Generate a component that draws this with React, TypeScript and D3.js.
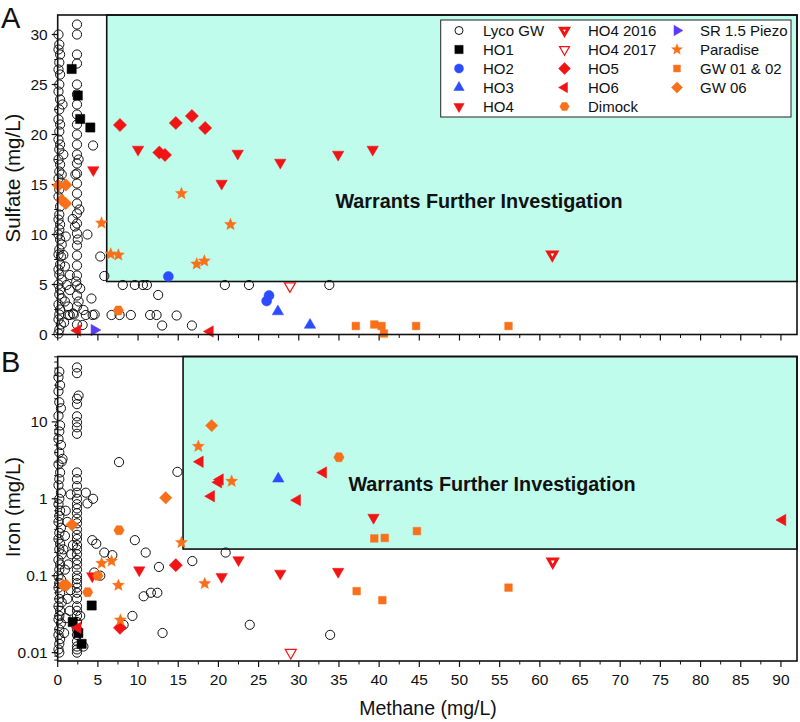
import React from 'react';
import * as d3 from 'd3';

type P = [number, number];

// ---------- ticks ----------
const xMajorTicks = [0, 5, 10, 15, 20, 25, 30, 35, 40, 45, 50, 55, 60, 65, 70, 75, 80, 85, 90];
const xMinorTicks = [2.5, 7.5, 12.5, 17.5, 22.5, 27.5, 32.5, 37.5, 42.5, 47.5, 52.5, 57.5, 62.5, 67.5, 72.5, 77.5, 82.5, 87.5];
const sulfateMajorTicks = [0, 5, 10, 15, 20, 25, 30];
const sulfateMinorTicks = [2.5, 7.5, 12.5, 17.5, 22.5, 27.5];
const ironMajorTicks = [0.01, 0.1, 1, 10];
const ironTickLabels = ['0.01', '0.1', '1', '10'];
const ironMinorTicks = [0.008, 0.009, 0.02, 0.03, 0.04, 0.05, 0.06, 0.07, 0.08, 0.09, 0.2, 0.3, 0.4, 0.5, 0.6, 0.7, 0.8, 0.9, 2, 3, 4, 5, 6, 7, 8, 9, 20, 30, 40, 50, 60, 70];

// thresholds
const sulfateThreshold: P = [6.1, 5.3];
const ironThreshold: P = [15.6, 0.222];

// ---------- Panel A (sulfate) ----------
const lycoSulfate: P[] = [
  [0.1, 30], [0.2, 29], [0.1, 28.5], [0.3, 28], [0.2, 27.2], [0.1, 26.5], [0.3, 26], [0.2, 25], [0.1, 24.3], [0.3, 23.5],
  [0.6, 23], [0.2, 22.5], [0.1, 21.5], [0.3, 21], [0.2, 20.3], [0.1, 19.5], [0.3, 19], [0.2, 18.5], [0.1, 17.5], [0.3, 17],
  [0.2, 16.3], [0.1, 15.6], [0.4, 15.2], [0.2, 14.5], [0.1, 13.8], [0.3, 12.8], [0.2, 12], [0.1, 11.5], [0.3, 11], [0.2, 10.5],
  [0.1, 10], [0.3, 9.5], [0.5, 9], [0.2, 8.5], [0.1, 8], [0.4, 7.8], [0.3, 7], [0.1, 6.5], [0.2, 6], [0.5, 5.5],
  [0.1, 5], [0.3, 4.5], [0.2, 4], [0.5, 3.6], [0.1, 3], [0.3, 2.5], [0.2, 2], [0.1, 1.5], [0.4, 1], [0.2, 0.5], [0.1, 0.1],
  [0.7, 18], [0.5, 16], [1.0, 9.8], [0.7, 7.95], [0.9, 6.8], [1.5, 5.95], [1.1, 4.95], [1.5, 4.45], [0.9, 3.3], [1.3, 2.8],
  [1.9, 2.1], [1.3, 1.95], [1.87, 11.55], [2.15, 10.8], [1.5, 1.95], [0.8, 1.2],
  [2.4, 31], [2.4, 30], [2.4, 28], [2.4, 27.1], [2.4, 25], [2.4, 24], [2.4, 23], [2.4, 22], [2.4, 21], [2.4, 20],
  [2.4, 19], [2.4, 18], [2.4, 17.1], [2.4, 16.1], [2.4, 15.1], [2.4, 14.1], [2.4, 13.1], [2.4, 12.1], [2.4, 11.1], [2.4, 10.1],
  [2.4, 8.9], [2.4, 7.9], [2.4, 6.9], [2.4, 5.9], [2.4, 4.9], [2.4, 3.9], [2.4, 2.8], [2.4, 1.0],
  [2.6, 17.5], [2.2, 16], [2.7, 12.5], [2.5, 9.5], [2.3, 5.3], [2.8, 4.6], [2.0, 2.0], [2.6, 3.3],
  [4.4, 18.9], [3.7, 10.0], [5.3, 7.8], [5.8, 5.85], [4.2, 3.6], [4.6, 2.0], [3.2, 2.45], [3.1, 0.95], [4.35, 1.95], [3.5, 1.95],
  [8.1, 4.95], [9.6, 4.95], [10.6, 4.95], [11.1, 4.95], [20.8, 4.95], [23.8, 4.95], [33.8, 4.95], [12.5, 3.95],
  [6.7, 1.95], [7.7, 1.95], [9.1, 1.95], [11.5, 1.95], [12.3, 1.95], [14.8, 1.9], [13.0, 0.9], [16.7, 0.9]
];
const ho1Sulfate: P[] = [[1.74, 26.55], [2.5, 23.9], [2.8, 21.55], [4.06, 20.7]];
const ho2Sulfate: P[] = [[13.77, 5.8], [26.3, 3.9], [26.0, 3.35]];
const ho3Sulfate: P[] = [[27.4, 2.3], [31.4, 0.95]];
const ho4Sulfate: P[] = [[4.43, 16.45], [10.0, 18.5], [22.4, 18.1], [27.7, 17.2], [34.9, 18.0], [20.4, 15.1], [39.2, 18.5]];
const ho4_2016Sulfate: P[] = [[61.55, 8.0]];
const ho4_2017Sulfate: P[] = [[28.9, 4.85]];
const ho5Sulfate: P[] = [[7.75, 20.95], [12.65, 18.2], [13.35, 17.95], [14.7, 21.15], [16.7, 21.85], [18.35, 20.65]];
const ho6Sulfate: P[] = [[2.45, 0.4], [18.95, 0.3]];
const dimockSulfate: P[] = [[7.55, 2.4]];
const piezoSulfate: P[] = [[4.56, 0.45]];
const paradiseSulfate: P[] = [[5.45, 11.15], [6.6, 8.05], [7.55, 7.95], [15.4, 14.1], [21.5, 11.0], [17.3, 7.05], [18.25, 7.35]];
const gw0102Sulfate: P[] = [[37.1, 0.85], [39.4, 1.0], [40.3, 0.85], [40.6, 0.1], [44.6, 0.85], [56.1, 0.85]];
const gw06Sulfate: P[] = [[0.1, 14.9], [1.03, 14.95], [0.5, 13.45], [1.0, 13.1]];

// ---------- Panel B (iron) ----------
const lycoIron: P[] = [
  [0.2, 45], [0.1, 38], [0.3, 30], [0.1, 25], [0.2, 18], [0.4, 15], [0.1, 12], [0.3, 9], [0.2, 7.5], [0.1, 6],
  [0.4, 5], [0.2, 4], [0.6, 3.3], [0.5, 3.05], [0.1, 2.8], [0.3, 2.2], [0.2, 1.8], [0.1, 1.5], [0.4, 1.2], [0.2, 1.0],
  [0.1, 0.85], [0.3, 0.7], [0.2, 0.6], [0.1, 0.5], [0.4, 0.42], [0.2, 0.36], [0.1, 0.3], [0.3, 0.26], [0.2, 0.22], [0.5, 0.19],
  [0.1, 0.16], [0.3, 0.14], [0.2, 0.12], [0.1, 0.1], [0.4, 0.09], [0.2, 0.08], [0.1, 0.07], [0.3, 0.06], [0.2, 0.05], [0.5, 0.045],
  [0.1, 0.04], [0.3, 0.035], [0.2, 0.03], [0.1, 0.027], [0.4, 0.024], [0.2, 0.02], [0.1, 0.017], [0.3, 0.015], [0.2, 0.013], [0.1, 0.011], [0.2, 0.01],
  [0.9, 0.33], [0.7, 0.22], [1.3, 0.14], [0.9, 0.12], [1.5, 0.035], [1.0, 0.028], [0.8, 0.018], [1.2, 0.05], [1.6, 0.065], [1.9, 0.25],
  [1.7, 0.19], [1.2, 0.5], [1.0, 0.7], [1.6, 1.14],
  [2.4, 51], [2.4, 43], [2.6, 22], [2.4, 20], [2.4, 17], [2.4, 11.8], [2.4, 9.9], [2.4, 8.5], [2.4, 7.0], [2.4, 2.2],
  [2.4, 1.8], [2.4, 1.46], [2.4, 1.2], [2.4, 1.0], [2.4, 0.85], [2.4, 0.75], [2.4, 0.65], [2.4, 0.55], [2.4, 0.48], [2.4, 0.4],
  [2.4, 0.34], [2.4, 0.3], [2.4, 0.25], [2.4, 0.22], [2.4, 0.19], [2.4, 0.16], [2.4, 0.14], [2.4, 0.12], [2.4, 0.1], [2.4, 0.09],
  [2.4, 0.08], [2.4, 0.07], [2.4, 0.06], [2.4, 0.05], [2.4, 0.04], [2.4, 0.035], [2.4, 0.03], [2.4, 0.025], [2.4, 0.02], [2.4, 0.017],
  [2.4, 0.014], [2.4, 0.012], [2.4, 0.011], [2.4, 0.01], [2.8, 0.03], [3.2, 0.012],
  [7.63, 3.0], [14.9, 2.24], [3.5, 1.2], [4.4, 1.0], [3.7, 0.87], [4.3, 0.29], [4.8, 0.26], [5.8, 0.2], [6.8, 0.185], [9.6, 0.29],
  [10.95, 0.2], [12.6, 0.13], [16.75, 0.155], [20.9, 0.2], [4.55, 0.11], [5.3, 0.1], [10.7, 0.054], [11.6, 0.06], [12.4, 0.06], [9.3, 0.03],
  [13.05, 0.018], [23.9, 0.023], [33.9, 0.017], [8.2, 0.023]
];
const ho1Iron: P[] = [[4.23, 0.041], [1.87, 0.025], [2.57, 0.018], [2.98, 0.013]];
const ho3Iron: P[] = [[27.45, 1.82]];
const ho4Iron: P[] = [[4.3, 0.099], [10.15, 0.118], [20.4, 0.097], [22.5, 0.16], [27.7, 0.107], [34.9, 0.113], [39.3, 0.57]];
const ho4_2016Iron: P[] = [[61.6, 0.152]];
const ho4_2017Iron: P[] = [[29.0, 0.01]];
const ho5Iron: P[] = [[14.7, 0.137], [7.75, 0.021]];
const ho6Iron: P[] = [[2.5, 0.021], [17.7, 3.03], [20.2, 1.78], [20.0, 1.64], [19.1, 1.08], [29.8, 0.96], [33.05, 2.2], [90.2, 0.53]];
const dimockIron: P[] = [[7.63, 0.39], [3.73, 0.061], [35.0, 3.47], [5.0, 0.1]];
const paradiseIron: P[] = [[17.5, 4.8], [21.65, 1.69], [15.4, 0.27], [5.47, 0.145], [6.7, 0.155], [7.55, 0.075], [18.3, 0.079], [7.8, 0.0265]];
const gw0102Iron: P[] = [[39.4, 0.305], [40.7, 0.31], [44.7, 0.38], [37.2, 0.063], [40.4, 0.048], [56.1, 0.07]];
const gw06Iron: P[] = [[19.16, 8.95], [13.44, 1.03], [1.78, 0.46], [0.7, 0.075], [1.1, 0.075]];

// ---------- styles ----------
const RED = '#f01414';
const BLUE = '#2c4cff';
const PURPLE = '#5a3cf6';
const ORANGE = '#f8701a';
const TEAL = '#bffcec';
const FONT = "Arial, 'Liberation Sans', Helvetica, sans-serif";

type Shape = 'circle' | 'square' | 'up' | 'down' | 'left' | 'right' | 'diamond' | 'star' | 'hexagon';
interface Style { name: string; shape: Shape; size: number; fill: string; stroke: string; sw: number; inner?: boolean; }

const STY: Record<string, Style> = {
  lyco: { name: 'Lyco GW', shape: 'circle', size: 4.6, fill: 'none', stroke: '#111', sw: 1 },
  ho1: { name: 'HO1', shape: 'square', size: 4.6, fill: '#000', stroke: '#000', sw: 0.5 },
  ho2: { name: 'HO2', shape: 'circle', size: 5, fill: BLUE, stroke: BLUE, sw: 0.5 },
  ho3: { name: 'HO3', shape: 'up', size: 6.6, fill: BLUE, stroke: BLUE, sw: 0.5 },
  ho4: { name: 'HO4', shape: 'down', size: 6.6, fill: RED, stroke: RED, sw: 0.5 },
  ho4_2016: { name: 'HO4 2016', shape: 'down', size: 6.4, fill: 'white', stroke: RED, sw: 3, inner: true },
  ho4_2017: { name: 'HO4 2017', shape: 'down', size: 6.4, fill: 'white', stroke: RED, sw: 1.2 },
  ho5: { name: 'HO5', shape: 'diamond', size: 6.6, fill: RED, stroke: RED, sw: 0.5 },
  ho6: { name: 'HO6', shape: 'left', size: 6.6, fill: RED, stroke: RED, sw: 0.5 },
  dimock: { name: 'Dimock', shape: 'hexagon', size: 5.2, fill: ORANGE, stroke: ORANGE, sw: 0.5 },
  piezo: { name: 'SR 1.5 Piezo', shape: 'right', size: 6.6, fill: PURPLE, stroke: PURPLE, sw: 0.5 },
  paradise: { name: 'Paradise', shape: 'star', size: 6.4, fill: ORANGE, stroke: ORANGE, sw: 0.3 },
  gw0102: { name: 'GW 01 & 02', shape: 'square', size: 3.8, fill: ORANGE, stroke: ORANGE, sw: 0.5 },
  gw06: { name: 'GW 06', shape: 'diamond', size: 6.2, fill: ORANGE, stroke: ORANGE, sw: 0.5 },
};

const legendColumns: string[][] = [
  ['lyco', 'ho1', 'ho2', 'ho3', 'ho4'],
  ['ho4_2016', 'ho4_2017', 'ho5', 'ho6', 'dimock'],
  ['piezo', 'paradise', 'gw0102', 'gw06'],
];

function markerPath(shape: Shape, s: number): string {
  const p = d3.path();
  const poly = (pts: P[]) => {
    pts.forEach(([x, y], i) => (i === 0 ? p.moveTo(x, y) : p.lineTo(x, y)));
    p.closePath();
  };
  const tri = (angle0: number) => {
    const pts: P[] = [];
    for (let i = 0; i < 3; i++) {
      const a = angle0 + (i * 2 * Math.PI) / 3;
      pts.push([s * Math.cos(a), s * Math.sin(a)]);
    }
    poly(pts);
  };
  switch (shape) {
    case 'circle': p.arc(0, 0, s, 0, 2 * Math.PI); p.closePath(); break;
    case 'square': p.rect(-s, -s, 2 * s, 2 * s); break;
    case 'up': tri(-Math.PI / 2); break;
    case 'down': tri(Math.PI / 2); break;
    case 'left': tri(Math.PI); break;
    case 'right': tri(0); break;
    case 'diamond': poly([[0, -s], [s, 0], [0, s], [-s, 0]]); break;
    case 'star': {
      const pts: P[] = [];
      for (let i = 0; i < 10; i++) {
        const r = i % 2 === 0 ? s : s * 0.45;
        const a = -Math.PI / 2 + (i * Math.PI) / 5;
        pts.push([r * Math.cos(a), r * Math.sin(a)]);
      }
      poly(pts);
      break;
    }
    case 'hexagon': {
      const pts: P[] = [];
      for (let i = 0; i < 6; i++) {
        const a = (i * Math.PI) / 3;
        pts.push([s * Math.cos(a), s * Math.sin(a)]);
      }
      poly(pts);
      break;
    }
  }
  return p.toString();
}

const Marker = ({ st, x, y }: { st: Style; x: number; y: number }) => {
  const k = st.inner ? st.size - 1.2 : st.size;
  return (
    <path
      d={markerPath(st.shape, k)}
      transform={`translate(${x},${y})`}
      fill={st.fill}
      stroke={st.stroke}
      strokeWidth={st.sw}
      strokeLinejoin="miter"
    />
  );
};

const X0 = 57.7, X1 = 797;
const xScale = d3.scaleLinear().domain([0, 92]).range([X0, X1]);
const yA = d3.scaleLinear().domain([0, 31.95]).range([334.5, 15]);
const yB = d3.scaleLog().domain([0.00778, 70.8]).range([661, 356.5]);

const seriesA: [string, P[]][] = [
  ['lyco', lycoSulfate], ['gw06', gw06Sulfate], ['ho1', ho1Sulfate], ['ho2', ho2Sulfate], ['ho3', ho3Sulfate],
  ['ho4', ho4Sulfate], ['ho4_2016', ho4_2016Sulfate], ['ho4_2017', ho4_2017Sulfate], ['ho5', ho5Sulfate],
  ['ho6', ho6Sulfate], ['dimock', dimockSulfate], ['piezo', piezoSulfate], ['paradise', paradiseSulfate], ['gw0102', gw0102Sulfate],
];
const seriesB: [string, P[]][] = [
  ['lyco', lycoIron], ['ho1', ho1Iron], ['ho3', ho3Iron], ['ho4', ho4Iron], ['ho4_2016', ho4_2016Iron],
  ['ho4_2017', ho4_2017Iron], ['ho5', ho5Iron], ['ho6', ho6Iron], ['dimock', dimockIron], ['paradise', paradiseIron],
  ['gw0102', gw0102Iron], ['gw06', gw06Iron],
];

const Panel = ({ y, yMajor, yMinor, yLabels, seriesList, thr, showXLabels, title, titleY }: any) => {
  const [r0, r1] = y.range();
  const top = r1, bottom = r0;
  const tx = xScale(thr[0]);
  const ty = y(thr[1]);
  return (
    <g>
      <rect x={tx} y={top} width={X1 - tx} height={ty - top} fill={TEAL} stroke="#111" strokeWidth={1.6} />
      {xMajorTicks.map((t) => (
        <line key={'xm' + t} x1={xScale(t)} x2={xScale(t)} y1={bottom} y2={bottom + 6} stroke="#111" strokeWidth={1.2} />
      ))}
      {xMinorTicks.map((t) => (
        <line key={'xn' + t} x1={xScale(t)} x2={xScale(t)} y1={bottom} y2={bottom + 3.5} stroke="#111" strokeWidth={1} />
      ))}
      {showXLabels && xMajorTicks.map((t) => (
        <text key={'xl' + t} x={xScale(t)} y={bottom + 24} textAnchor="middle" fontSize={15.5} fontFamily={FONT} fill="#111">{t}</text>
      ))}
      {yMajor.map((t: number, i: number) => (
        <g key={'ym' + t}>
          <line x1={X0 - 6} x2={X0} y1={y(t)} y2={y(t)} stroke="#111" strokeWidth={1.2} />
          <text x={X0 - 10} y={y(t)} dy="0.35em" textAnchor="end" fontSize={15.5} fontFamily={FONT} fill="#111">{yLabels[i]}</text>
        </g>
      ))}
      {yMinor.map((t: number) => (
        <line key={'yn' + t} x1={X0 - 3.5} x2={X0} y1={y(t)} y2={y(t)} stroke="#111" strokeWidth={1} />
      ))}
      {seriesList.map(([key, pts]: [string, P[]]) => (
        <g key={key}>
          {pts.map((d, i) => (
            <Marker key={i} st={STY[key]} x={xScale(d[0])} y={y(d[1])} />
          ))}
        </g>
      ))}
      <rect x={X0} y={top} width={X1 - X0} height={bottom - top} fill="none" stroke="#111" strokeWidth={1.6} />
      <text x={20} y={titleY} transform={`rotate(-90,20,${titleY})`} textAnchor="middle" fontSize={20.5} fontFamily={FONT} fill="#111">{title}</text>
    </g>
  );
};

export default function App() {
  const legX = 440.7, legY = 20, legW = 350.3, legH = 97;
  const colSym = [459, 564.5, 677];
  const colTxt = [483, 588, 700];
  const rowY = [30.5, 49.5, 68.5, 87.5, 106.5];
  return (
    <svg width={800} height={722} style={{ position: 'absolute', left: 0, top: 0, background: '#fff' }}>
      <rect width={800} height={722} fill="#fff" />
      <Panel y={yA} yMajor={sulfateMajorTicks} yMinor={sulfateMinorTicks} yLabels={sulfateMajorTicks.map(String)}
        seriesList={seriesA} thr={sulfateThreshold} showXLabels={false} title="Sulfate (mg/L)" titleY={178} />
      <Panel y={yB} yMajor={ironMajorTicks} yMinor={ironMinorTicks} yLabels={ironTickLabels}
        seriesList={seriesB} thr={ironThreshold} showXLabels={true} title="Iron (mg/L)" titleY={507} />
      <text x={479} y={208} textAnchor="middle" fontSize={19.8} fontWeight="bold" fontFamily={FONT} fill="#111">Warrants Further Investigation</text>
      <text x={492} y={491} textAnchor="middle" fontSize={19.8} fontWeight="bold" fontFamily={FONT} fill="#111">Warrants Further Investigation</text>
      <text x={428} y={715} textAnchor="middle" fontSize={19.5} fontFamily={FONT} fill="#111">Methane (mg/L)</text>
      <text x={1} y={28} fontSize={29} fontFamily={FONT} fill="#111">A</text>
      <text x={1} y={372} fontSize={29} fontFamily={FONT} fill="#111">B</text>
      <rect x={legX} y={legY} width={legW} height={legH} fill="#fff" stroke="#222" strokeWidth={1} />
      {legendColumns.map((col, ci) =>
        col.map((key, ri) => {
          const st = STY[key];
          const lst: Style = key === 'lyco' ? { ...st, size: 4 } : { ...st, size: st.size * 0.9 };
          return (
            <g key={key}>
              <Marker st={lst} x={colSym[ci]} y={rowY[ri]} />
              <text x={colTxt[ci]} y={rowY[ri]} dy="0.35em" fontSize={15} fontFamily={FONT} fill="#111">{st.name}</text>
            </g>
          );
        })
      )}
    </svg>
  );
}
